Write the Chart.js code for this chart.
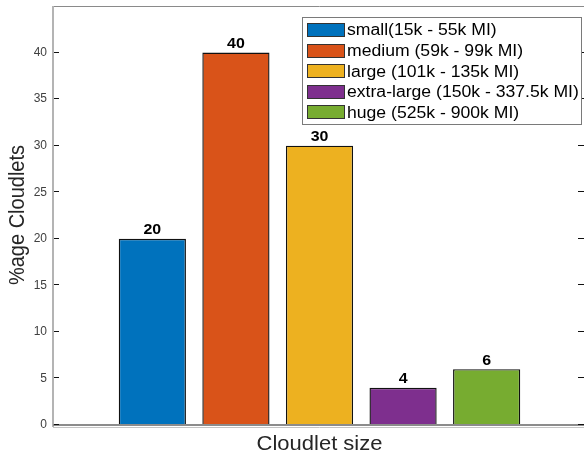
<!DOCTYPE html>
<html>
<head>
<meta charset="utf-8">
<script src="https://cdn.jsdelivr.net/npm/chart.js@4/dist/chart.umd.min.js"></script>
<style>
  html, body { margin: 0; padding: 0; background: #fff; overflow: hidden; }
  #wrap { width: 584px; height: 457px; overflow: hidden; }
  #c { display: block; }
</style>
</head>
<body>
<div id="wrap"><canvas id="c" width="586" height="457"></canvas></div>
<script>
// Cloudlet size classes and their share of all cloudlets (%)
const sizeClasses = [
  'small(15k - 55k MI)',
  'medium (59k - 99k MI)',
  'large (101k - 135k MI)',
  'extra-large (150k - 337.5k MI)',
  'huge (525k - 900k MI)'
];
const sharePercent = [20, 40, 30, 4, 6];
const classColors = ['#0072BD', '#D95319', '#EDB120', '#7E2F8E', '#77AC30'];
const yTicks = [0, 5, 10, 15, 20, 25, 30, 35, 40];
const yTitle = '%age Cloudlets';
const xTitle = 'Cloudlet size';

const FONT = '"Liberation Sans", Arial, sans-serif';
const VISIBLE_RIGHT = 584; // the frame's right side sits at the page edge
const TEXT_WIDEN = 1.1;    // text is set slightly wide

const datasets = sizeClasses.map((name, i) => ({
  label: name,
  data: [sharePercent[i]],
  backgroundColor: classColors[i],
  borderColor: '#111111',
  borderWidth: 1.4,
  categoryPercentage: 0.784,
  barPercentage: 0.804
}));

function wideText(ctx, text, x, y, sx) {
  ctx.save();
  ctx.translate(x, y);
  ctx.scale(sx, 1);
  ctx.fillText(text, 0, 0);
  ctx.restore();
}

// Axes frame, inward tick marks, value labels, legend box and axis titles
const decorations = {
  id: 'decorations',
  afterDatasetsDraw(chart) {
    const { ctx, chartArea: a, scales } = chart;
    const y = scales.y;
    const rightEdge = VISIBLE_RIGHT;
    ctx.save();

    // frame
    ctx.strokeStyle = '#8a8a8a';
    ctx.lineWidth = 1;
    ctx.beginPath();
    ctx.moveTo(a.left, a.top + 0.5);
    ctx.lineTo(chart.width, a.top + 0.5);
    ctx.stroke();
    ctx.strokeStyle = '#b4b4b4';
    ctx.lineWidth = 2;
    ctx.beginPath();
    ctx.moveTo(a.left, a.top);
    ctx.lineTo(a.left, a.bottom + 2);
    ctx.stroke();
    ctx.strokeStyle = '#8c8c8c';
    ctx.lineWidth = 2;
    ctx.beginPath();
    ctx.moveTo(a.left, a.bottom);
    ctx.lineTo(chart.width, a.bottom);
    ctx.stroke();
    ctx.strokeStyle = '#c4c4c4';
    ctx.lineWidth = 1;
    ctx.beginPath();
    ctx.moveTo(a.left, a.bottom + 2.5);
    ctx.lineTo(chart.width, a.bottom + 2.5);
    ctx.stroke();

    // tick marks pointing into the plot
    ctx.strokeStyle = '#111';
    ctx.lineWidth = 1;
    yTicks.forEach(v => {
      const py = Math.round(y.getPixelForValue(v)) - 0.5;
      ctx.beginPath();
      ctx.moveTo(a.left + 1, py);
      ctx.lineTo(a.left + 6, py);
      ctx.moveTo(rightEdge, py);
      ctx.lineTo(rightEdge - 6, py);
      ctx.stroke();
    });

    // value labels above the bars
    ctx.fillStyle = '#000';
    ctx.font = 'bold 14.5px ' + FONT;
    ctx.textAlign = 'center';
    ctx.textBaseline = 'alphabetic';
    chart.data.datasets.forEach((ds, i) => {
      const bar = chart.getDatasetMeta(i).data[0];
      wideText(ctx, String(ds.data[0]), bar.x, bar.y - 4.5, TEXT_WIDEN);
    });

    // legend
    const lx = 302.5, ly = 17.5, lw = 279, lh = 107;
    ctx.fillStyle = '#fff';
    ctx.fillRect(lx, ly, lw, lh);
    ctx.strokeStyle = '#7a7a7a';
    ctx.lineWidth = 1;
    ctx.strokeRect(lx, ly, lw, lh);
    ctx.font = '16px ' + FONT;
    ctx.textAlign = 'left';
    ctx.textBaseline = 'middle';
    chart.data.datasets.forEach((ds, i) => {
      const cy = 30 + i * 20.6;
      ctx.fillStyle = ds.backgroundColor;
      ctx.fillRect(307, Math.round(cy - 7), 38, 14);
      ctx.strokeStyle = '#333';
      ctx.strokeRect(307.5, Math.round(cy - 7) + 0.5, 37, 13);
      ctx.fillStyle = '#000';
      wideText(ctx, ds.label, 347, cy + 1, TEXT_WIDEN);
    });

    // axis titles
    ctx.fillStyle = '#262626';
    ctx.font = '20px ' + FONT;
    ctx.textAlign = 'center';
    ctx.textBaseline = 'middle';
    wideText(ctx, xTitle, 319.5, 444, TEXT_WIDEN);
    ctx.save();
    ctx.translate(18, 215);
    ctx.rotate(-Math.PI / 2);
    ctx.scale(1, TEXT_WIDEN);
    ctx.fillText(yTitle, 0, 0);
    ctx.restore();

    ctx.restore();
  }
};

new Chart(document.getElementById('c'), {
  type: 'bar',
  data: { labels: [''], datasets },
  options: {
    responsive: false,
    animation: false,
    layout: { padding: { top: 6, right: 0, bottom: 32, left: 0 } },
    plugins: { legend: { display: false }, tooltip: { enabled: false } },
    scales: {
      x: { display: false },
      y: {
        min: 0,
        max: 45,
        afterBuildTicks(scale) {
          scale.ticks = yTicks.map(v => ({ value: v }));
        },
        afterFit(scale) {
          scale.width = 53;
          scale.paddingTop = 0;
          scale.paddingBottom = 0;
        },
        grid: { display: false, drawTicks: false },
        border: { display: false },
        ticks: {
          padding: 6,
          color: '#404040',
          font: { family: FONT, size: 12 }
        }
      }
    }
  },
  plugins: [decorations]
});
</script>
</body>
</html>
